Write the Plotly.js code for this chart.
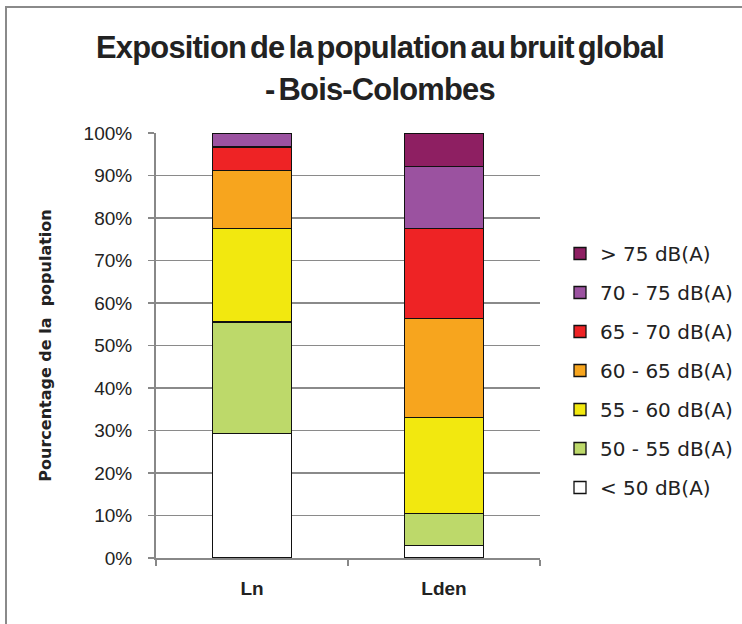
<!DOCTYPE html>
<html>
<head>
<meta charset="utf-8">
<script src="https://cdn.plot.ly/plotly-3.0.1.min.js"></script>
<style>
  html, body { margin: 0; padding: 0; background: #fff; }
  #wrap { position: relative; width: 742px; height: 624px; overflow: hidden; }
  #chart { position: absolute; left: 0; top: 0; width: 742px; height: 624px; }
  #frame { position: absolute; left: 5px; top: 6px; width: 800px; height: 700px;
           border-left: 2px solid #8a8a8a; border-top: 2px solid #8a8a8a; pointer-events: none; }
  .gtitle { transform-box: fill-box; transform-origin: center; transform: scaleX(0.965); letter-spacing: -0.8px; word-spacing: -4px; }
</style>
</head>
<body>
<div id="wrap"><div id="chart"></div><div id="frame"></div></div>
<script>
const categories = ["Ln", "Lden"];
const seriesNames = ["< 50 dB(A)", "50 - 55 dB(A)", "55 - 60 dB(A)", "60 - 65 dB(A)", "65 - 70 dB(A)", "70 - 75 dB(A)", "> 75 dB(A)"];
const lt50   = [29.3, 2.9];
const s50_55 = [26.2, 7.6];
const s55_60 = [22.1, 22.6];
const s60_65 = [13.5, 23.2];
const s65_70 = [5.6, 21.3];
const s70_75 = [3.3, 14.6];
const gt75   = [0.0, 7.8];
const seriesValues = [lt50, s50_55, s55_60, s60_65, s65_70, s70_75, gt75];
const colors = ["#ffffff", "#bdd96a", "#f2e80f", "#f7a51e", "#ee2325", "#9b52a0", "#8e1f62"];
const yTickVals = [0, 10, 20, 30, 40, 50, 60, 70, 80, 90, 100];
const yTickText = yTickVals.map(v => v + "%");

const traces = seriesValues.map((vals, i) => ({
  type: "bar",
  name: seriesNames[i],
  x: categories,
  y: vals,
  legendgroup: "g" + i,
  legendrank: seriesValues.length - i,
  marker: { color: colors[i], line: { color: "#111", width: 1.3 } },
  hoverinfo: "skip"
}));

const layout = {
  width: 742, height: 624,
  margin: { l: 156, r: 202, t: 133, b: 66, autoexpand: false },
  paper_bgcolor: "#fff", plot_bgcolor: "#fff",
  barmode: "stack",
  bargap: 0.59,
  font: { family: "Liberation Sans, Arial, sans-serif", color: "#222" },
  title: {
    text: "<b>Exposition de la population au bruit global<br>- Bois-Colombes</b>",
    font: { family: "Liberation Sans, Arial, sans-serif", size: 32, color: "#222" },
    x: 380 / 742, xref: "container", xanchor: "center",
    y: 0.907, yref: "container", yanchor: "top"
  },
  xaxis: {
    type: "category",
    range: [-0.5, 1.5],
    showline: true, linecolor: "#888", linewidth: 2,
    ticks: "outside", tickson: "boundaries", ticklen: 6, tickcolor: "#888", tickwidth: 1.5,
    tickfont: { size: 19, color: "#222", family: "Liberation Sans, Arial, sans-serif", weight: "bold" },
    ticklabelstandoff: 12,
    showgrid: false, zeroline: false
  },
  yaxis: {
    range: [0, 100],
    tickvals: yTickVals, ticktext: yTickText,
    showline: true, linecolor: "#888", linewidth: 2,
    ticks: "outside", ticklen: 6, tickcolor: "#888", tickwidth: 1.5,
    tickfont: { size: 19, color: "#222" },
    ticklabelstandoff: 12,
    showgrid: true, gridcolor: "#8a8a8a", gridwidth: 1.5,
    zeroline: false,
    title: { text: "<b>Pourcentage de la  population</b>", font: { family: "DejaVu Sans, sans-serif", size: 16, color: "#222" }, standoff: 28 }
  },
  showlegend: true,
  legend: {
    xref: "container", yref: "container",
    x: 560 / 742, xanchor: "left", y: 0.625, yanchor: "top",
    traceorder: "grouped", tracegroupgap: 10,
    font: { family: "DejaVu Sans, sans-serif", size: 20, color: "#222" },
    itemwidth: 30,
    bgcolor: "rgba(0,0,0,0)"
  }
};

Plotly.newPlot("chart", traces, layout, { displayModeBar: false, staticPlot: true });
</script>
</body>
</html>
